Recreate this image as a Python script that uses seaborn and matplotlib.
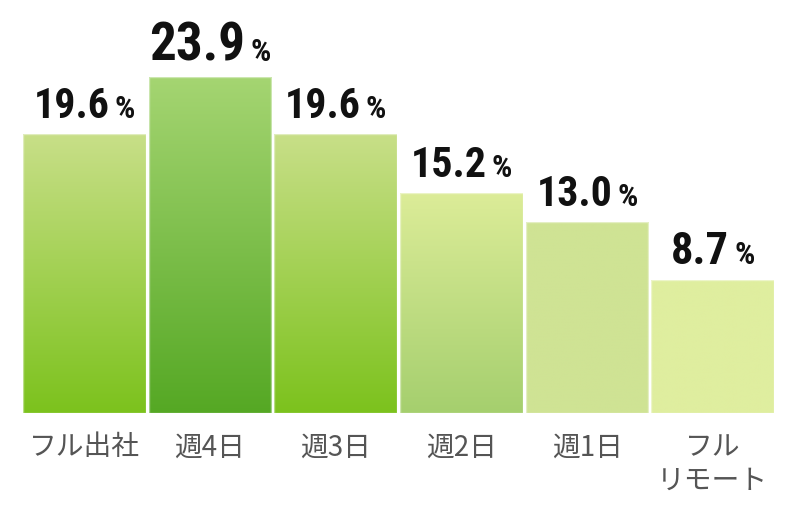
import numpy as np
import pandas as pd
import matplotlib
matplotlib.use('Agg')
import matplotlib.pyplot as plt
import matplotlib.transforms as mtransforms
from matplotlib import font_manager as fm
from matplotlib.colors import LinearSegmentedColormap
import seaborn as sns

# data
categories = ['フル出社', '週4日', '週3日', '週2日', '週1日', 'フル\nリモート']
values = [19.6, 23.9, 19.6, 15.2, 13.0, 8.7]
top_colors = ['#c8df88', '#a5d572', '#c8df88', '#dcec98', '#cfe394', '#dfee9f']
bottom_colors = ['#7cc21d', '#55a824', '#7cc21d', '#a5cf6e', '#cfe394', '#dfee9f']

df = pd.DataFrame({'cat': categories, 'val': values})

sns.set_theme(style='white')
plt.rcParams['font.family'] = ['Noto Sans CJK JP', 'DejaVu Sans']


def pick_condensed_bold():
    # look for a narrow / condensed bold face among installed fonts
    prefs = ['Liberation Sans Narrow', 'Roboto Condensed', 'Open Sans Condensed',
             'DejaVu Sans Condensed', 'DejaVu Sans']
    cands = []
    for f in fm.fontManager.ttflist:
        w = f.weight if isinstance(f.weight, int) else (700 if 'bold' in str(f.weight).lower() else 400)
        narrow = ('narrow' in f.fname.lower() or 'condensed' in f.fname.lower()
                  or 'condensed' in str(f.stretch).lower())
        if w >= 600 and narrow and 'oblique' not in f.fname.lower() and 'italic' not in f.fname.lower():
            cands.append(f)
    for name in prefs:
        for f in cands:
            if f.name == name or name.replace(' ', '').lower() in f.fname.replace('-', '').lower():
                return f.fname
    if cands:
        return cands[0].fname
    return None


num_file = pick_condensed_bold()

fig = plt.figure(figsize=(8, 5.2), dpi=100)
ax = fig.add_axes([21.4 / 800, 107 / 520, 754.2 / 800, 413 / 520])

sns.barplot(data=df, x='cat', y='val', ax=ax, width=0.975, color='#cccccc',
            saturation=1, errorbar=None)

ybase = -1.26
ax.set_ylim(ybase, 29.65)
ax.set_xlim(-0.5, len(categories) - 0.5)

grad = np.linspace(0, 1, 256).reshape(-1, 1)
for i, p in enumerate(ax.patches):
    h = p.get_height()
    p.set_y(ybase)
    p.set_height(h - ybase)
    p.set_facecolor('none')
    p.set_edgecolor((1, 1, 1, 0.45))
    p.set_linewidth(1)
    x0 = p.get_x()
    x1 = x0 + p.get_width()
    cmap = LinearSegmentedColormap.from_list('g%d' % i, [bottom_colors[i], top_colors[i]])
    im = ax.imshow(grad, cmap=cmap, aspect='auto', origin='lower',
                   extent=[x0, x1, ybase, h], zorder=1, interpolation='bilinear')
    im.set_clip_path(p)
    p.set_zorder(2)


def num_props(size):
    if num_file:
        return fm.FontProperties(fname=num_file, size=size)
    return fm.FontProperties(family='DejaVu Sans', weight='bold', stretch='condensed', size=size)


# value labels: big number + small %
max_v = max(values)
labels = []
for i, v in enumerate(values):
    size = 39 if v == max_v else 32
    t1 = ax.text(i, v, f'{v:.1f}', fontproperties=num_props(size),
                 color='#111111', ha='left', va='baseline')
    t2 = ax.text(i, v, '%', fontproperties=num_props(23),
                 color='#111111', ha='left', va='baseline')
    labels.append((t1, t2, size, v))

fig.canvas.draw()
r = fig.canvas.get_renderer()
# shrink the numbers a bit if the font is wider than the original one
for t1, t2, size, v in labels:
    target = 96 if v == max_v else 76
    w1 = t1.get_window_extent(r).width
    if w1 > target:
        t1.set_fontsize(size * target / w1)
fig.canvas.draw()

gap = 5
for t1, t2, size, v in labels:
    w1 = t1.get_window_extent(r).width
    w2 = t2.get_window_extent(r).width
    total = w1 + gap + w2
    dy = 16
    t1.set_transform(mtransforms.offset_copy(ax.transData, fig, x=-total / 2, y=dy, units='dots'))
    t2.set_transform(mtransforms.offset_copy(ax.transData, fig, x=-total / 2 + w1 + gap, y=dy, units='dots'))

ax.set_xlabel('')
ax.set_ylabel('')
ax.set_yticks([])
ax.set_xticks(range(len(categories)))
ax.set_xticklabels(categories, fontsize=20, color='#555555', linespacing=1.15)
ax.tick_params(axis='x', length=0, pad=14)
sns.despine(ax=ax, left=True, bottom=True)

fig.savefig('out.png', dpi=100)
